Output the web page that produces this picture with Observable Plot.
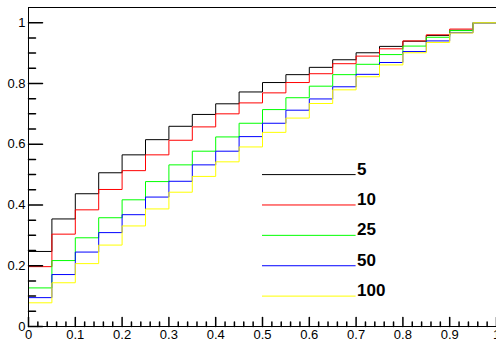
<!DOCTYPE html>
<html><head><meta charset="utf-8">
<script src="https://cdn.jsdelivr.net/npm/d3@7"></script>
<script src="https://cdn.jsdelivr.net/npm/@observablehq/plot@0.6"></script>
<style>
body{margin:0;background:#fff;}
#chart svg{display:block;overflow:visible;}
</style>
</head><body><div id="chart"></div>
<script>
// bin lower edges (20 bins of width 0.05)
const binLow = [0,0.05,0.1,0.15,0.2,0.25,0.3,0.35,0.4,0.45,0.5,0.55,0.6,0.65,0.7,0.75,0.8,0.85,0.9,0.95];
const seriesNames = ["5","10","25","50","100"];
const seriesColors = ["#000000","#ff0000","#00ff00","#0000ff","#ffff00"];
const v5   = [0.247,0.354,0.437,0.506,0.565,0.615,0.659,0.698,0.733,0.772,0.803,0.829,0.853,0.878,0.901,0.922,0.939,0.958,0.975,1.0];
const v10  = [0.197,0.304,0.384,0.451,0.513,0.565,0.613,0.657,0.700,0.736,0.769,0.803,0.832,0.865,0.890,0.914,0.940,0.960,0.979,1.0];
const v25  = [0.127,0.217,0.292,0.358,0.417,0.477,0.532,0.577,0.624,0.669,0.714,0.753,0.791,0.829,0.863,0.895,0.923,0.952,0.974,1.0];
const v50  = [0.095,0.171,0.245,0.309,0.368,0.426,0.478,0.532,0.577,0.625,0.669,0.712,0.749,0.789,0.830,0.869,0.905,0.940,0.967,1.0];
const v100 = [0.078,0.144,0.207,0.268,0.331,0.387,0.442,0.494,0.542,0.591,0.639,0.686,0.734,0.779,0.822,0.861,0.901,0.935,0.966,1.0];
const xMajor = [0,0.1,0.2,0.3,0.4,0.5,0.6,0.7,0.8,0.9,1];
const xTickLabels = ["0","0.1","0.2","0.3","0.4","0.5","0.6","0.7","0.8","0.9","1"];
const yMajor = [0,0.2,0.4,0.6,0.8,1];
const yTickLabels = ["0","0.2","0.4","0.6","0.8","1"];

const allValues = [v5, v10, v25, v50, v100];
const binWidth = binLow[1] - binLow[0];
const rows = [];
seriesNames.forEach((name, s) => {
  const vals = allValues[s];
  vals.forEach((v, i) => rows.push({series: name, x: binLow[i], y: v}));
  rows.push({series: name, x: binLow[binLow.length - 1] + binWidth, y: vals[vals.length - 1]});
});

const xMinor = d3.range(0, 50).map(i => i * 0.02).filter(d => Math.abs(d * 10 - Math.round(d * 10)) > 1e-6);
const yMinor = d3.range(0, 20).map(i => i * 0.05).filter(d => Math.abs(d * 5 - Math.round(d * 5)) > 1e-6);

const legendRows = seriesNames.map((n, i) => ({name: n, y: 0.5 - 0.1 * i}));

const tickShape = {draw(ctx, l) { ctx.moveTo(0, 0); ctx.lineTo(0, -l); }};
const font = "'Liberation Sans', Arial, Helvetica, sans-serif";

const chart = Plot.plot({
  width: 496,
  height: 339,
  marginLeft: 28,
  marginRight: 0,
  marginTop: 7,
  marginBottom: 13,
  style: {fontFamily: font, fontSize: "13px", color: "#000", background: "#fff"},
  x: {domain: [0, 1]},
  y: {domain: [0, 1.05]},
  color: {domain: seriesNames, range: seriesColors},
  marks: [
    Plot.line(rows, {x: "x", y: "y", z: "series", stroke: "series", curve: "step-after", strokeWidth: 1}),
    Plot.ruleY(legendRows, {y: "y", x1: 0.5, x2: 0.7, stroke: "name", strokeWidth: 1}),
    Plot.text(legendRows, {x: 0.7, y: "y", text: "name", textAnchor: "start", lineAnchor: "bottom", fontWeight: "bold", fontSize: 17, dx: 1, fill: "#000"}),
    Plot.ruleX([0], {stroke: "#000"}),
    Plot.ruleY([0], {stroke: "#000"}),
    Plot.ruleY([1.05], {stroke: "#000"}),
    Plot.vector(xMajor, {x: d => d, y: 0, length: 9, rotate: 0, anchor: "start", shape: tickShape, stroke: "#000"}),
    Plot.vector(xMinor, {x: d => d, y: 0, length: 4.5, rotate: 0, anchor: "start", shape: tickShape, stroke: "#000"}),
    Plot.vector(yMajor, {x: 0, y: d => d, length: 14, rotate: 90, anchor: "start", shape: tickShape, stroke: "#000"}),
    Plot.vector(yMinor, {x: 0, y: d => d, length: 7, rotate: 90, anchor: "start", shape: tickShape, stroke: "#000"}),
    Plot.axisX(xMajor, {tickSize: 0, tickPadding: 3, tickFormat: d => xTickLabels[xMajor.indexOf(d)], fontSize: 13, label: null}),
    Plot.axisY(yMajor, {tickSize: 0, tickPadding: 3, tickFormat: d => yTickLabels[yMajor.indexOf(d)], fontSize: 13, label: null})
  ]
});
document.getElementById("chart").appendChild(chart);
</script>
</body></html>
